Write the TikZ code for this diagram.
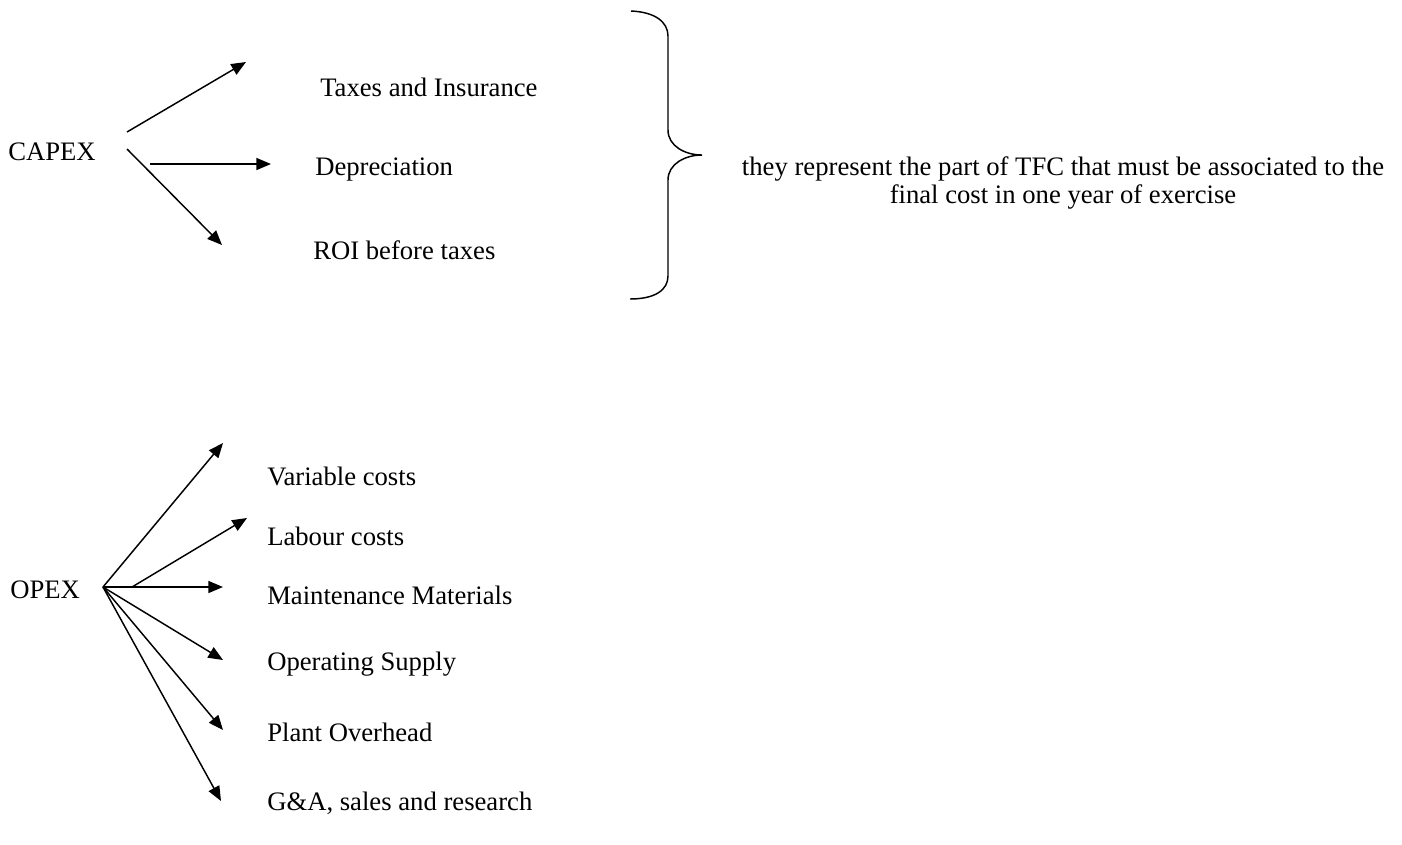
\documentclass[tikz,border=0pt]{standalone}
\usepackage{fontspec}
\setmainfont{Liberation Serif}
\usetikzlibrary{arrows.meta}
\begin{document}
\begin{tikzpicture}[x=0.75pt,y=-0.75pt,
  lbl/.style={anchor=base west,inner sep=0pt,font=\fontsize{20}{21}\selectfont},
  arr/.style={line width=1.1pt,-{Triangle[length=11pt,width=9pt]}},
  brace/.style={line width=1.1pt}]
\useasboundingbox (0,0) rectangle (1402,844);
% CAPEX group
\node[lbl] (capex) at (8,160) {CAPEX};
\node[lbl] (taxes) at (320,96) {Taxes and Insurance};
\node[lbl] (dep) at (315,175) {Depreciation};
\node[lbl] (roi) at (313,259) {ROI before taxes};
\coordinate (c1s) at (127,132); \coordinate (c1e) at (246,62);
\coordinate (c2s) at (150,164); \coordinate (c2e) at (271,164);
\coordinate (c3s) at (127,149); \coordinate (c3e) at (222,245);
\draw[arr] (c1s) -- (c1e);
\draw[arr] (c2s) -- (c2e);
\draw[arr] (c3s) -- (c3e);
% brace
\coordinate (bt) at (631,11);
\coordinate (btip) at (702,155);
\coordinate (bb) at (630,299);
\draw[brace] (bt) .. controls (655,12) and (668,22) .. (668,36) -- (668,130)
  .. controls (668,146) and (685,155) .. (btip)
  .. controls (685,155) and (668,164) .. (668,180) -- (668,276)
  .. controls (668,290) and (655,299) .. (bb);
\node[anchor=base,inner sep=0pt,align=center,font=\fontsize{20}{21}\selectfont] (desc) at (1063,203)
  {they represent the part of TFC that must be associated to the\\final cost in one year of exercise};
% OPEX group
\node[lbl] (opex) at (10,598) {OPEX};
\coordinate (hub) at (103,587);
\coordinate (lhub) at (132,587);
\node[lbl] (var) at (267,485) {Variable costs};
\node[lbl] (lab) at (267,545) {Labour costs};
\node[lbl] (maint) at (267,604) {Maintenance Materials};
\node[lbl] (oper) at (267,670) {Operating Supply};
\node[lbl] (plant) at (267,741) {Plant Overhead};
\node[lbl] (ga) at (267,810) {G\&A, sales and research};
\coordinate (o1) at (223,443);
\coordinate (o2) at (247,518);
\coordinate (o3) at (223,587);
\coordinate (o4) at (223,660);
\coordinate (o5) at (223,730);
\coordinate (o6) at (221,801);
\draw[arr] (hub) -- (o1);
\draw[arr] (lhub) -- (o2);
\draw[arr] (hub) -- (o3);
\draw[arr] (hub) -- (o4);
\draw[arr] (hub) -- (o5);
\draw[arr] (hub) -- (o6);
\end{tikzpicture}
\end{document}
